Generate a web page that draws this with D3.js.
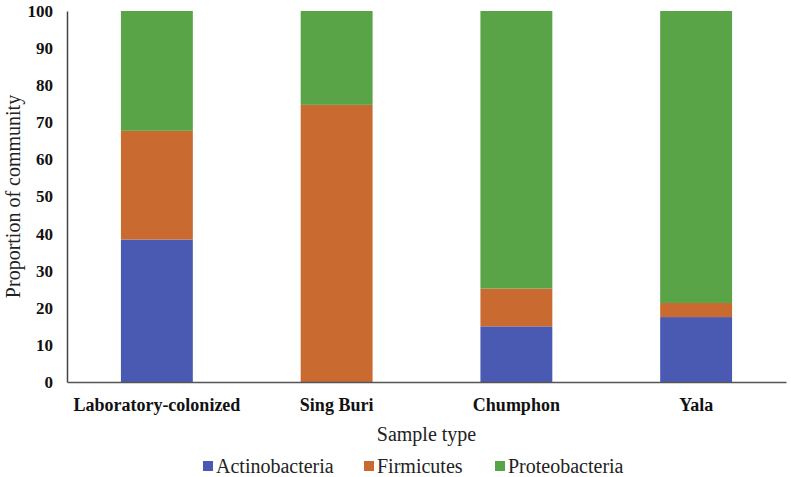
<!DOCTYPE html>
<html><head><meta charset="utf-8">
<script src="https://cdn.jsdelivr.net/npm/d3@7"></script>
</head><body style="margin:0;background:#fff"><svg id="c" width="791" height="477" style="display:block"></svg>
<script>
const categories = ["Laboratory-colonized", "Sing Buri", "Chumphon", "Yala"];
const seriesNames = ["Actinobacteria", "Firmicutes", "Proteobacteria"];
const actinobacteria = [38.4, 0, 15.0, 17.5];
const firmicutes = [29.3, 74.7, 10.2, 3.8];
const proteobacteria = [32.3, 25.3, 74.8, 78.7];
const yTicks = [0, 10, 20, 30, 40, 50, 60, 70, 80, 90, 100];
const colors = ["#4a5ab3", "#c96a30", "#58a447"];
const FONT = "'Liberation Serif', 'Times New Roman', serif";

const svg = d3.select("#c");
const m = {l: 67, r: 786, t: 11, b: 382};
const x = d3.scaleBand().domain(categories).range([m.l, m.r]).paddingInner(0.6).paddingOuter(0.3);
const y = d3.scaleLinear().domain([0, 100]).range([m.b, m.t]);

const rows = categories.map((c, i) => ({cat: c, Actinobacteria: actinobacteria[i], Firmicutes: firmicutes[i], Proteobacteria: proteobacteria[i]}));
const stack = d3.stack().keys(seriesNames)(rows);

svg.append("g").selectAll("g").data(stack).join("g")
  .attr("fill", (d, i) => colors[i])
  .selectAll("rect").data(d => d).join("rect")
  .attr("x", d => x(d.data.cat))
  .attr("width", x.bandwidth())
  .attr("y", d => y(Math.min(d[1], 100)))
  .attr("height", d => y(d[0]) - y(Math.min(d[1], 100)));

function serif(sel, size, weight) {
  sel.style("font-family", FONT)
     .style("font-size", size + "px")
     .style("font-weight", weight);
}

// y axis
const ya = svg.append("g").attr("transform", `translate(${m.l},0)`)
  .call(d3.axisLeft(y).tickValues(yTicks).tickSize(0).tickPadding(14));
ya.select(".domain").attr("stroke", "#444").attr("stroke-width", 1.5);
ya.selectAll("text").attr("fill", "#111").call(serif, 17, "bold");

// x axis
const xa = svg.append("g").attr("transform", `translate(0,${m.b})`)
  .call(d3.axisBottom(x).tickSize(0).tickPadding(16));
xa.select(".domain").attr("stroke", "#555").attr("stroke-width", 1.5);
xa.selectAll("text").attr("fill", "#111").call(serif, 18, "bold");

// axis titles
svg.append("text").attr("x", (m.l + m.r) / 2).attr("y", 441).attr("text-anchor", "middle")
  .attr("fill", "#222").call(serif, 20, "normal").text("Sample type");
svg.append("text").attr("transform", `translate(20,${(m.t + m.b) / 2}) rotate(-90)`)
  .attr("text-anchor", "middle").attr("fill", "#222").call(serif, 20, "normal")
  .text("Proportion of community");

// legend
const legX = [203, 364, 495];
const lg = svg.append("g").selectAll("g").data(seriesNames).join("g")
  .attr("transform", (d, i) => `translate(${legX[i]},466)`);
lg.append("rect").attr("x", 0).attr("y", -5).attr("width", 10).attr("height", 10).attr("fill", (d, i) => colors[i]);
lg.append("text").attr("x", 13).attr("y", 7).attr("fill", "#222").call(serif, 20, "normal").text(d => d);
</script></body></html>
